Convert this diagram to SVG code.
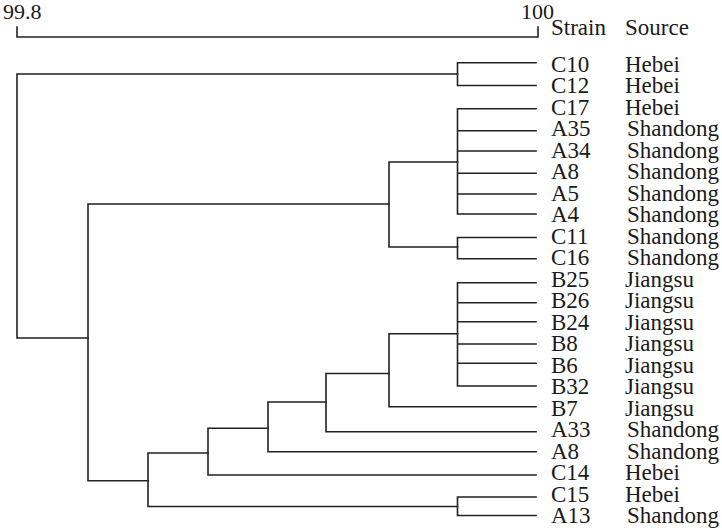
<svg xmlns="http://www.w3.org/2000/svg" width="722" height="532" viewBox="0 0 722 532">
<style>
text{font-family:"Liberation Serif","Times New Roman",serif;font-size:23px;fill:#1a1a1a}
.num{font-size:22px}
.ln{fill:none;stroke:#222;stroke-width:1.6;stroke-linecap:square}
</style>
<rect width="722" height="532" fill="#fff"/>
<g id="scale">
<path class="ln" d="M17,27 V37 H538 V27"/>
<text class="num" x="3" y="19">99.8</text>
<text class="num" x="521" y="19">100</text>
</g>
<g id="header">
<text x="551" y="35">Strain</text>
<text x="625" y="35">Source</text>
</g>
<g id="connectors" class="ln">
<path class="ln" d="M457.5,62.7 V85.5 M457.5,62.7 H536 M457.5,85.5 H536"/>
<path class="ln" d="M457.5,108.8 V214 M457.5,108.8 H536 M457.5,130.7 H536 M457.5,151 H536 M457.5,173.3 H536 M457.5,194 H536 M457.5,214 H536"/>
<path class="ln" d="M457.5,237.5 V258.8 M457.5,237.5 H536 M457.5,258.8 H536"/>
<path class="ln" d="M389,162 V247 M389,162 H457.5 M389,247 H457.5"/>
<path class="ln" d="M457.5,282.8 V386 M457.5,282.8 H536 M457.5,302.7 H536 M457.5,321.7 H536 M457.5,344 H536 M457.5,363.3 H536 M457.5,386 H536"/>
<path class="ln" d="M389,333.7 V406.7 M389,333.7 H457.5 M389,406.7 H536"/>
<path class="ln" d="M326,373.5 V431.7 M326,373.5 H389 M326,431.7 H536"/>
<path class="ln" d="M268,402 V451.7 M268,402 H326 M268,451.7 H536"/>
<path class="ln" d="M208,428.3 V475 M208,428.3 H268 M208,475 H536"/>
<path class="ln" d="M457.5,497 V515.5 M457.5,497 H536 M457.5,515.5 H536"/>
<path class="ln" d="M148,453 V506.5 M148,453 H208 M148,506.5 H457.5"/>
<path class="ln" d="M88,204 V480.7 M88,204 H389 M88,480.7 H148"/>
<path class="ln" d="M17,74 V338 M17,74 H457.5 M17,338 H88"/>
</g>
<g id="leaf-C10"><text x="551" y="71.7">C10</text><text x="625" y="71.7">Hebei</text></g>
<g id="leaf-C12"><text x="551" y="93.2">C12</text><text x="625" y="93.2">Hebei</text></g>
<g id="leaf-C17"><text x="551" y="114.7">C17</text><text x="625" y="114.7">Hebei</text></g>
<g id="leaf-A35"><text x="551" y="136.2">A35</text><text x="627" y="136.2">Shandong</text></g>
<g id="leaf-A34"><text x="551" y="157.7">A34</text><text x="627" y="157.7">Shandong</text></g>
<g id="leaf-A8a"><text x="551" y="179.2">A8</text><text x="627" y="179.2">Shandong</text></g>
<g id="leaf-A5"><text x="551" y="200.7">A5</text><text x="627" y="200.7">Shandong</text></g>
<g id="leaf-A4"><text x="551" y="222.2">A4</text><text x="627" y="222.2">Shandong</text></g>
<g id="leaf-C11"><text x="551" y="243.7">C11</text><text x="627" y="243.7">Shandong</text></g>
<g id="leaf-C16"><text x="551" y="265.2">C16</text><text x="627" y="265.2">Shandong</text></g>
<g id="leaf-B25"><text x="551" y="286.7">B25</text><text x="625" y="286.7">Jiangsu</text></g>
<g id="leaf-B26"><text x="551" y="308.2">B26</text><text x="625" y="308.2">Jiangsu</text></g>
<g id="leaf-B24"><text x="551" y="329.7">B24</text><text x="625" y="329.7">Jiangsu</text></g>
<g id="leaf-B8"><text x="551" y="351.2">B8</text><text x="625" y="351.2">Jiangsu</text></g>
<g id="leaf-B6"><text x="551" y="372.7">B6</text><text x="625" y="372.7">Jiangsu</text></g>
<g id="leaf-B32"><text x="551" y="394.2">B32</text><text x="625" y="394.2">Jiangsu</text></g>
<g id="leaf-B7"><text x="551" y="415.7">B7</text><text x="625" y="415.7">Jiangsu</text></g>
<g id="leaf-A33"><text x="551" y="437.2">A33</text><text x="627" y="437.2">Shandong</text></g>
<g id="leaf-A8b"><text x="551" y="458.7">A8</text><text x="627" y="458.7">Shandong</text></g>
<g id="leaf-C14"><text x="551" y="480.2">C14</text><text x="625" y="480.2">Hebei</text></g>
<g id="leaf-C15"><text x="551" y="501.7">C15</text><text x="625" y="501.7">Hebei</text></g>
<g id="leaf-A13"><text x="551" y="523.2">A13</text><text x="627" y="523.2">Shandong</text></g>
</svg>
